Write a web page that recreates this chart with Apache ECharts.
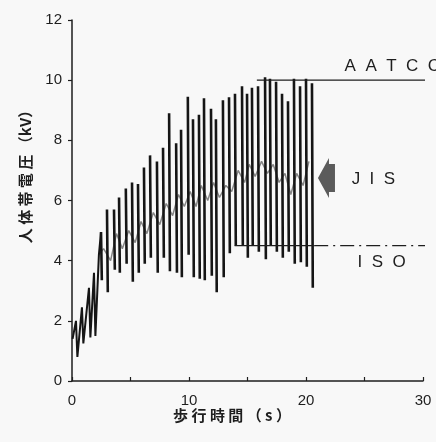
<!DOCTYPE html>
<html>
<head>
<meta charset="utf-8">
<script src="https://cdn.jsdelivr.net/npm/echarts@6/dist/echarts.min.js"></script>
<style>
  html, body { margin: 0; padding: 0; background: #f8f8f8; }
  #chart { width: 436px; height: 442px; }
</style>
</head>
<body>
<div id="chart"></div>
<script>
// 歩行時の人体帯電圧の記録（読み取り値）
// 立ち上がり部分（0〜2.5秒）はジグザグに連続
const riseTime = [0.05, 0.34, 0.46, 0.85, 0.97, 1.45, 1.57, 1.88, 2.0, 2.3, 2.48]
const riseKV = [1.4, 2.0, 0.8, 2.45, 1.25, 3.1, 1.45, 3.6, 1.5, 4.2, 4.95]

// 以降は一歩ごとのスパイク（山と谷）
const spikeTime = [2.48, 2.99, 3.59, 4.02, 4.6, 5.13, 5.64, 6.15, 6.67, 7.26,
  7.78, 8.3, 8.9, 9.32, 9.9, 10.34, 10.85, 11.28, 11.88, 12.3, 12.9, 13.42, 13.93, 14.53, 14.96,
  15.38, 15.9, 16.5, 16.92, 17.44, 17.95, 18.46, 18.97, 19.49, 20.0, 20.51]
const peakKV = [4.95, 5.7, 5.7, 6.1, 6.4, 6.6, 6.55, 7.1, 7.5, 7.3,
  7.75, 8.9, 7.9, 8.35, 9.45, 8.7, 8.85, 9.4, 9.05, 8.7, 9.33, 9.43, 9.55, 9.8, 9.55,
  9.75, 9.8, 10.1, 10.05, 9.95, 9.55, 9.3, 10.05, 9.8, 10.05, 9.9]
const troughKV = [3.35, 2.95, 3.7, 3.6, 3.9, 3.3, 3.6, 3.9, 4.1, 3.6,
  4.1, 3.65, 3.6, 3.45, 4.2, 3.45, 3.4, 3.35, 3.5, 2.95, 3.45, 4.25, 4.5, 4.5, 4.1,
  4.5, 4.3, 4.05, 4.5, 4.3, 4.1, 4.3, 3.9, 3.95, 3.8, 3.1]

// 中間の細かい揺れ（灰色の線）
const midTime = [2.3, 2.7, 3.3, 3.8, 4.3, 4.85, 5.4, 5.9, 6.4, 6.95, 7.5, 8.05, 8.6, 9.1, 9.6,
  10.1, 10.6, 11.05, 11.6, 12.1, 12.6, 13.15, 13.65, 14.2, 14.75, 15.15, 15.65, 16.2, 16.7,
  17.2, 17.7, 18.2, 18.7, 19.2, 19.75, 20.25]
const midKV = [4.2, 4.4, 4.0, 4.9, 4.4, 5.0, 4.6, 5.3, 4.9, 5.6, 5.2, 5.9, 5.5, 6.2, 5.8,
  6.3, 5.8, 6.5, 6.0, 6.6, 6.1, 6.5, 6.3, 7.0, 6.6, 7.2, 6.8, 7.3, 6.9,
  7.2, 6.6, 6.9, 6.2, 6.9, 6.5, 7.3]

// 規格レベル
const aatccLine = [[15.8, 10], [31.2, 10]]
const isoSolid = [[13.9, 4.5], [20.7, 4.5]]
const isoDash = [[20.7, 4.5], [31.2, 4.5]]
const jisPoint = [21.75, 6.75]

const xTicks = [0, 10, 20, 30]

const rise = riseTime.map((t, i) => [t, riseKV[i]])
// スパイクは山→谷の一本線、間は切る
const spikes = []
spikeTime.forEach((t, i) => {
  spikes.push([t, peakKV[i]])
  spikes.push([t + 0.07, troughKV[i]])
  spikes.push('-')
})
const mid = midTime.map((t, i) => [t, midKV[i]])

const font = "'Liberation Sans', Arial, sans-serif"
const jpFont = "'Noto Sans CJK JP', sans-serif"
const ink = '#1e1e1e'

const chart = echarts.init(document.getElementById('chart'))
chart.setOption({
  animation: false,
  backgroundColor: '#f8f8f8',
  grid: { left: 72, right: 13, top: 20, bottom: 61 },
  xAxis: {
    type: 'value',
    min: 0,
    max: 30,
    interval: 5,
    splitLine: { show: false },
    axisLine: { lineStyle: { color: ink, width: 1.5 } },
    axisTick: { inside: true, length: 4, lineStyle: { color: ink, width: 1.2 } },
    axisLabel: {
      margin: 12,
      color: ink,
      fontSize: 15,
      fontFamily: font,
      formatter: v => (xTicks.includes(v) ? String(v) : '')
    }
  },
  yAxis: {
    type: 'value',
    min: 0,
    max: 12,
    interval: 2,
    splitLine: { show: false },
    axisLine: { show: true, lineStyle: { color: ink, width: 1.5 } },
    axisTick: { show: true, length: 4, lineStyle: { color: ink, width: 1.2 } },
    axisLabel: { margin: 10, color: ink, fontSize: 15, fontFamily: font }
  },
  series: [
    {
      type: 'line',
      data: mid,
      symbol: 'none',
      lineStyle: { color: '#858585', width: 1.5 },
      z: 2
    },
    {
      type: 'line',
      data: rise,
      symbol: 'none',
      lineStyle: { color: '#151515', width: 2 },
      z: 3
    },
    {
      type: 'line',
      data: spikes,
      symbol: 'none',
      connectNulls: false,
      lineStyle: { color: '#151515', width: 2.6 },
      z: 3
    },
    {
      type: 'line',
      data: aatccLine,
      symbol: 'none',
      clip: false,
      lineStyle: { color: ink, width: 1.4 },
      z: 4
    },
    {
      type: 'line',
      data: isoSolid,
      symbol: 'none',
      clip: false,
      lineStyle: { color: ink, width: 1.3 },
      z: 4
    },
    {
      type: 'line',
      data: isoDash,
      symbol: 'none',
      clip: false,
      lineStyle: { color: ink, width: 1.3, type: [14, 5, 2, 5] },
      z: 4
    },
    {
      type: 'scatter',
      data: [jisPoint],
      symbol: 'path://M0,20 L11,0 L11,6 L17,6 L17,34 L11,34 L11,40 Z',
      symbolSize: [17, 40],
      itemStyle: { color: '#333' },
      z: 5
    }
  ]
})

// 注記テキスト
const px = p => chart.convertToPixel({ gridIndex: 0 }, p)
const aPos = px([23.3, 10])
const jPos = px([23.9, 6.7])
const iPos = px([24.4, 4.5])
chart.setOption({
  graphic: [
    {
      type: 'text', x: aPos[0], y: aPos[1] - 5,
      style: { text: 'A  A  T  C  C', fill: ink, font: '17px ' + font, textVerticalAlign: 'bottom' }
    },
    {
      type: 'text', x: jPos[0], y: jPos[1],
      style: { text: 'J  I  S', fill: ink, font: '17px ' + font, textVerticalAlign: 'middle' }
    },
    {
      type: 'text', x: iPos[0], y: iPos[1] + 8,
      style: { text: 'I  S  O', fill: ink, font: '17px ' + font, textVerticalAlign: 'top' }
    },
    {
      type: 'text', x: 25, y: 173, rotation: Math.PI / 2,
      style: {
        text: '人 体 帯 電 圧 （kV）', fill: ink, font: 'bold 15px ' + jpFont,
        textAlign: 'center', textVerticalAlign: 'middle'
      }
    },
    {
      type: 'text', x: 232, y: 415,
      style: {
        text: '歩 行 時 間 （ s ）', fill: ink, font: 'bold 15px ' + jpFont,
        textAlign: 'center', textVerticalAlign: 'middle'
      }
    }
  ]
})
</script>
</body>
</html>
